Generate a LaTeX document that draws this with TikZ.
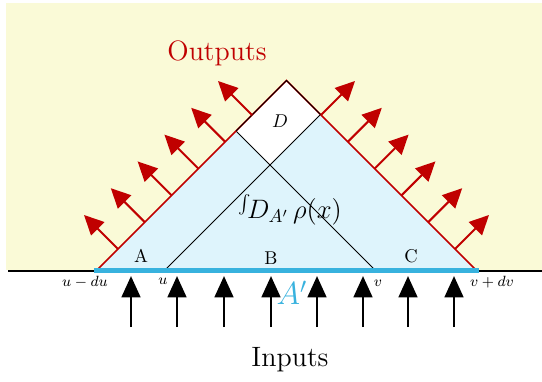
\documentclass[tikz,border=0pt]{standalone}
\usetikzlibrary{arrows.meta,calc}
\definecolor{bgyellow}{RGB}{250,250,215}
\definecolor{lightblue}{RGB}{222,244,252}
\definecolor{lineblue}{RGB}{56,178,222}
\definecolor{outred}{RGB}{192,0,0}
\begin{document}
\begin{tikzpicture}[x=0.54pt,y=-0.54pt,
  outarrow/.style={outred, line width=1.1pt, -{Triangle[length=10.5pt,width=10pt]}},
  inarrow/.style={black, line width=1.6pt, -{Triangle[length=11.5pt,width=10pt]}},
  edgelbl/.style={inner sep=0pt, font=\footnotesize},
  regionlbl/.style={inner sep=0pt, font=\normalsize},
  titlelbl/.style={inner sep=0pt, font=\Large}]
\useasboundingbox (0,0) rectangle (542,381);
% background
\fill[bgyellow] (6,3) rectangle (542,270);
% key points
\coordinate (L) at (97,270);
\coordinate (R) at (476,270);
\coordinate (T) at (286.5,80.5);
\coordinate (u) at (165,270);
\coordinate (v) at (375,270);
\coordinate (Dr) at (320.5,114.5);
\coordinate (Dl) at (236,131);
\coordinate (X) at (270,165);
\coordinate (Bs) at (8,271);
\coordinate (Be) at (542,271);
\coordinate (Ab) at (94,270);
\coordinate (Ae) at (479,270);
% fills
\fill[lightblue] (L) -- (T) -- (R) -- cycle;
\fill[white] (T) -- (Dr) -- (X) -- (Dl) -- cycle;
% inner lines
\draw[black, line width=0.5pt] (u) -- (Dr) (v) -- (Dl);
% triangle edges
\draw[outred, line width=0.8pt] (L) -- (T) -- (R);
\draw[black, line width=0.4pt] (Dl) -- (T) -- (Dr);
% baseline and A'
\draw[black, line width=0.6pt] (Bs) -- (Be);
\draw[lineblue, line width=2.7pt] (Ab) -- (Ae);
% output arrows
\foreach \d [count=\i] in {34.5,61.3,88.1,114.9,141.7,168.5} {
  \coordinate (ol\i) at ($(T)+(-\d,\d)$);
  \coordinate (olt\i) at ($(ol\i)+(-34,-34)$);
  \draw[outarrow] (ol\i) -- (olt\i);
  \coordinate (or\i) at ($(T)+(\d,\d)$);
  \coordinate (ort\i) at ($(or\i)+(34,-34)$);
  \draw[outarrow] (or\i) -- (ort\i);
}
% input arrows
\foreach \x [count=\i] in {131,177,224,271,317,363,408,454} {
  \coordinate (ib\i) at (\x,327);
  \coordinate (it\i) at (\x,276);
  \draw[inarrow] (ib\i) -- (it\i);
}
% labels
\node[titlelbl, text=outred, scale=1.05] (outputs) at (217,53) {Outputs};
\node[titlelbl, scale=1.05] (inputs) at (290,360) {Inputs};
\node[regionlbl] (A) at (141,256) {A};
\node[regionlbl] (B) at (271,258) {B};
\node[regionlbl] (C) at (411,256) {C};
\node[regionlbl] (D) at (280,121) {$D$};
\node[inner sep=0pt, font=\LARGE, text=lineblue] (Ap) at (292,293) {$A'$};
\node[inner sep=0pt, font=\Large] (integral) at (290,210) {${}^{\scriptscriptstyle\int}\!D_{A'}\,\rho(x)$};
\node[edgelbl] (umdu) at (85,282) {$u-du$};
\node[edgelbl] (ulbl) at (163,281) {$u$};
\node[edgelbl] (vlbl) at (378,283) {$v$};
\node[edgelbl] (vpdv) at (492,282) {$v+dv$};
\end{tikzpicture}
\end{document}
